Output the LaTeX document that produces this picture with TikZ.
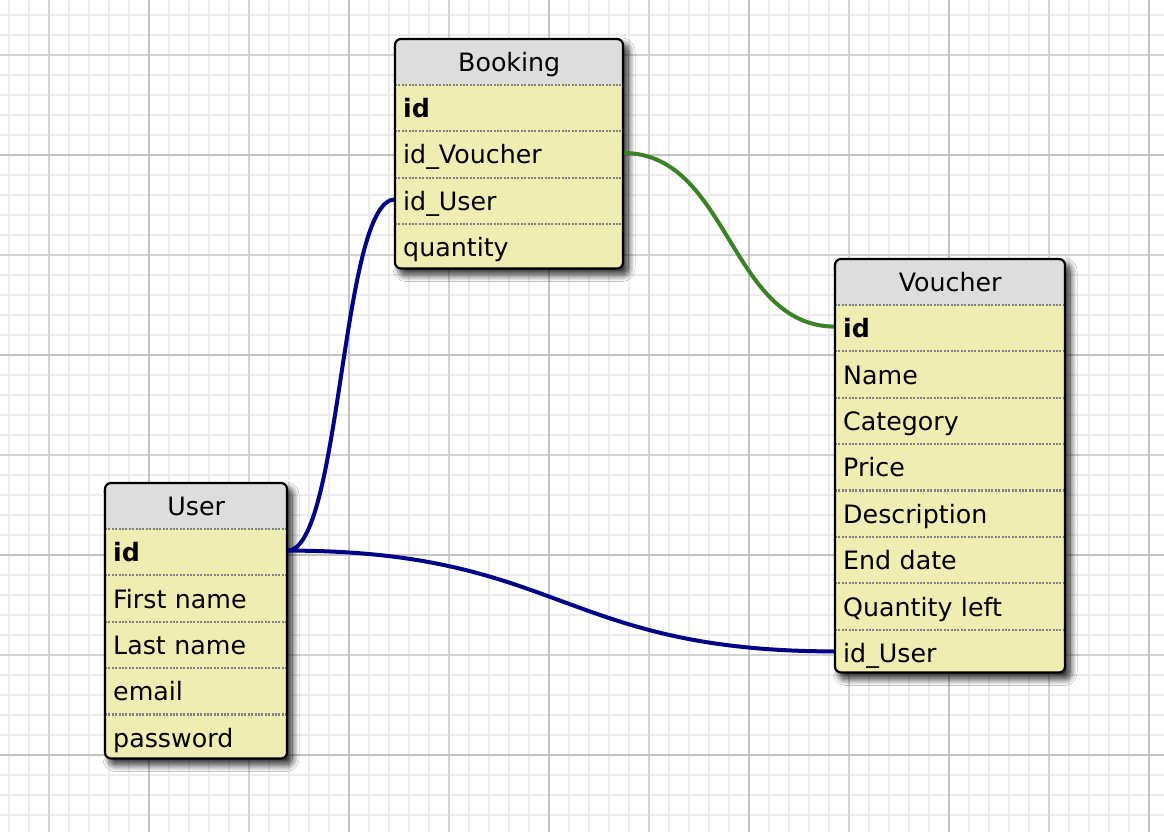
\documentclass[tikz,border=0pt]{standalone}
\usepackage{fontspec}
\setmainfont{DejaVu Sans}
\usetikzlibrary{shadows.blur}
\definecolor{rowfill}{RGB}{240,237,178}
\definecolor{hdrfill}{RGB}{221,221,221}
\definecolor{gridminor}{RGB}{236,236,236}
\definecolor{gridmid}{RGB}{210,210,210}
\definecolor{gridmajor}{RGB}{196,196,196}
\definecolor{relblue}{RGB}{0,0,136}
\definecolor{relgreen}{RGB}{58,130,38}
\definecolor{sepgray}{RGB}{128,128,128}
\begin{document}
\begin{tikzpicture}[x=1pt,y=-1pt,
  tblfont/.style={font=\fontsize{25.3}{30}\selectfont},
  hdr/.style={tblfont, rectangle, inner sep=0pt, minimum height=45.5pt, anchor=north west, text height=19pt, text depth=0pt},
  fieldrow/.style={tblfont, rectangle, inner xsep=8pt, inner ysep=0pt, minimum height=46pt, anchor=north west, align=left, text height=19pt, text depth=0pt},
  tblshadow/.style={fill=rowfill, rounded corners=6pt, blur shadow={shadow xshift=5pt, shadow yshift=-6pt, shadow blur radius=7pt, shadow blur steps=14, shadow opacity=90}},
  tblborder/.style={draw=black, line width=2.2pt, rounded corners=6pt},
  sepline/.style={draw=sepgray, line width=2.2pt, dash pattern=on 2pt off 1.4pt},
  rel/.style={line width=4pt},
  minorline/.style={draw=gridminor, line width=2pt},
  midline/.style={draw=gridmid, line width=2pt},
  majorline/.style={draw=gridmajor, line width=2.2pt},
]
\useasboundingbox (0,0) rectangle (1164,832);
\fill[white] (0,0) rectangle (1164,832);
% grid
\foreach \x in {9,29,...,1169} \draw[minorline] (\x,0) -- (\x,832);
\foreach \y in {15,35,...,835} \draw[minorline] (0,\y) -- (1164,\y);
\foreach \x in {49,249,...,1049} \draw[midline] (\x,0) -- (\x,832);
\foreach \y in {55,255,...,655} \draw[midline] (0,\y) -- (1164,\y);
\foreach \x in {149,349,...,1149} \draw[majorline] (\x,0) -- (\x,832);
\foreach \y in {155,355,...,755} \draw[majorline] (0,\y) -- (1164,\y);

% ---------- Booking ----------
\path[tblshadow] (395,39) rectangle (623,268.5);
\begin{scope}
  \clip[rounded corners=6pt] (395,39) rectangle (623,268.5);
  \fill[hdrfill] (395,39) rectangle (623,84.5);
\end{scope}
\node[hdr, minimum width=228pt] (B0) at (395,39) {Booking};
\node[fieldrow, text width=212pt] (B1) at (B0.south west) {\textbf{id}};
\node[fieldrow, text width=212pt] (B2) at (B1.south west) {id\_Voucher};
\node[fieldrow, text width=212pt] (B3) at (B2.south west) {id\_User};
\node[fieldrow, text width=212pt] (B4) at (B3.south west) {quantity};
\foreach \i in {0,...,3} \draw[sepline] (B\i.south west) -- (B\i.south east);

% ---------- Voucher ----------
\path[tblshadow] (835,259) rectangle (1065,672.5);
\begin{scope}
  \clip[rounded corners=6pt] (835,259) rectangle (1065,672.5);
  \fill[hdrfill] (835,259) rectangle (1065,304.5);
\end{scope}
\node[hdr, minimum width=230pt] (V0) at (835,259) {Voucher};
\node[fieldrow, text width=214pt] (V1) at (V0.south west) {\textbf{id}};
\node[fieldrow, text width=214pt] (V2) at (V1.south west) {Name};
\node[fieldrow, text width=214pt] (V3) at (V2.south west) {Category};
\node[fieldrow, text width=214pt] (V4) at (V3.south west) {Price};
\node[fieldrow, text width=214pt] (V5) at (V4.south west) {Description};
\node[fieldrow, text width=214pt] (V6) at (V5.south west) {End date};
\node[fieldrow, text width=214pt] (V7) at (V6.south west) {Quantity left};
\node[fieldrow, text width=214pt] (V8) at (V7.south west) {id\_User};
\foreach \i in {0,...,7} \draw[sepline] (V\i.south west) -- (V\i.south east);

% ---------- User ----------
\path[tblshadow] (105,483) rectangle (287,758.5);
\begin{scope}
  \clip[rounded corners=6pt] (105,483) rectangle (287,758.5);
  \fill[hdrfill] (105,483) rectangle (287,528.5);
\end{scope}
\node[hdr, minimum width=182pt] (U0) at (105,483) {User};
\node[fieldrow, text width=166pt] (U1) at (U0.south west) {\textbf{id}};
\node[fieldrow, text width=166pt] (U2) at (U1.south west) {First name};
\node[fieldrow, text width=166pt] (U3) at (U2.south west) {Last name};
\node[fieldrow, text width=166pt] (U4) at (U3.south west) {email};
\node[fieldrow, text width=166pt] (U5) at (U4.south west) {password};
\foreach \i in {0,...,4} \draw[sepline] (U\i.south west) -- (U\i.south east);

% ---------- relations ----------
\draw[rel, relblue] ([yshift=1.5pt]U1.east) .. controls +(54,0) and +(-54,0) .. ([yshift=1.5pt]B3.west);
\draw[rel, relblue] ([yshift=1.5pt]U1.east) .. controls +(274,0) and +(-274,0) .. ([yshift=1.5pt]V8.west);
\draw[rel, relgreen] ([yshift=1.5pt]B2.east) .. controls +(106,0) and +(-106,0) .. ([yshift=1.5pt]V1.west);

% borders
\draw[tblborder] (395,39) rectangle (623,268.5);
\draw[tblborder] (835,259) rectangle (1065,672.5);
\draw[tblborder] (105,483) rectangle (287,758.5);
\end{tikzpicture}
\end{document}
